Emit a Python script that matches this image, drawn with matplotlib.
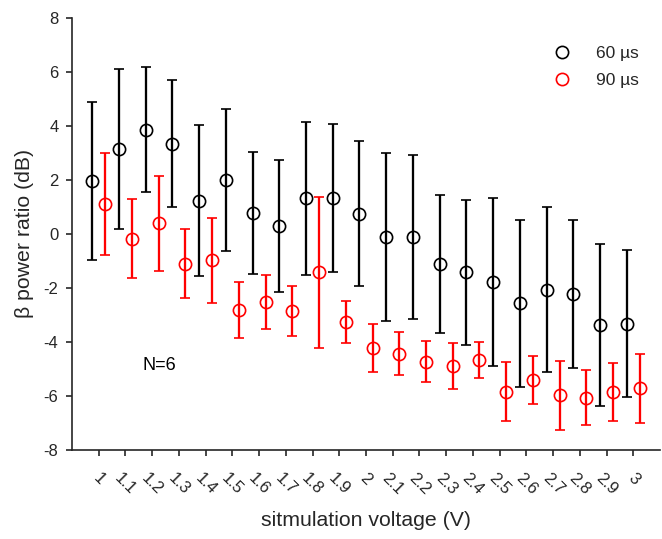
import matplotlib
matplotlib.use('Agg')
import matplotlib.pyplot as plt
import numpy as np
from matplotlib.lines import Line2D

plt.rcParams['font.family'] = ['Liberation Sans', 'DejaVu Sans']
plt.rcParams['axes.unicode_minus'] = False

voltages = ['1', '1.1', '1.2', '1.3', '1.4', '1.5', '1.6', '1.7', '1.8', '1.9', '2',
            '2.1', '2.2', '2.3', '2.4', '2.5', '2.6', '2.7', '2.8', '2.9', '3']

mean_60 = [1.95, 3.13, 3.86, 3.34, 1.23, 1.98, 0.77, 0.30, 1.31, 1.32, 0.75,
           -0.12, -0.13, -1.11, -1.43, -1.78, -2.57, -2.06, -2.22, -3.37, -3.32]
err_60 = [2.92, 2.96, 2.30, 2.35, 2.79, 2.63, 2.25, 2.45, 2.83, 2.74, 2.68,
          3.10, 3.03, 2.55, 2.68, 3.11, 3.09, 3.06, 2.73, 2.99, 2.72]

mean_90 = [1.11, -0.18, 0.39, -1.10, -0.98, -2.82, -2.53, -2.85, -1.43, -3.27, -4.22,
           -4.43, -4.73, -4.89, -4.67, -5.84, -5.41, -5.98, -6.06, -5.85, -5.72]
err_90 = [1.89, 1.46, 1.76, 1.28, 1.57, 1.03, 1.00, 0.93, 2.79, 0.78, 0.89,
          0.79, 0.76, 0.85, 0.67, 1.09, 0.89, 1.27, 1.03, 1.07, 1.28]

labels = ['60 \u00b5s', '90 \u00b5s']
colors = ['black', '#ff0000']

fig = plt.figure(figsize=(6.62, 5.39), dpi=100)
ax = fig.add_axes([72/662, 1-450/539, 588/662, 432.3/539])

x = np.arange(1, len(voltages) + 1)
off = 0.245
for xs, m, e, c in [(x - off, mean_60, err_60, colors[0]), (x + off, mean_90, err_90, colors[1])]:
    ax.errorbar(xs, m, yerr=e, fmt='o', mfc='none', mec=c, ms=8.8, mew=1.2,
                ecolor=c, elinewidth=1.65, capsize=3.9, capthick=1.65)

ax.set_xlim(0, len(voltages) + 1)
ax.set_ylim(-8, 8)
ax.set_yticks(np.arange(-8, 9, 2))
ax.set_xticks(x)
ax.set_xticklabels(voltages, rotation=-45, ha='center', rotation_mode='default')

for s in ['top', 'right']:
    ax.spines[s].set_visible(False)
for s in ['left', 'bottom']:
    ax.spines[s].set_color('#262626')
    ax.spines[s].set_linewidth(1.2)
ax.tick_params(direction='out', length=4.3, width=1.2, color='#262626',
               labelcolor='#262626', labelsize=12)
ax.tick_params(axis='y', pad=5.5)
ax.tick_params(axis='x', pad=10.5)

ax.set_xlabel('sitmulation voltage (V)', fontsize=15.3, color='#262626', labelpad=10)
ax.set_ylabel('\u03b2 power ratio (dB)', fontsize=15.3, color='#262626', labelpad=7)

ax.text(2.65, -4.86, 'N=6', fontsize=13, color='black', ha='left', va='center')

handles = [Line2D([], [], ls='none', marker='o', mfc='none', mec=c, ms=8.8, mew=1.2)
           for c in colors]
ax.legend(handles, labels, loc='upper left', bbox_to_anchor=(470/588, 1 - (39 - 17.7)/432.3),
          frameon=False, fontsize=12.5, handletextpad=1.2, labelspacing=0.7,
          borderaxespad=0, handlelength=1.5, labelcolor='#262626')

fig.savefig('out.png', dpi=100)
